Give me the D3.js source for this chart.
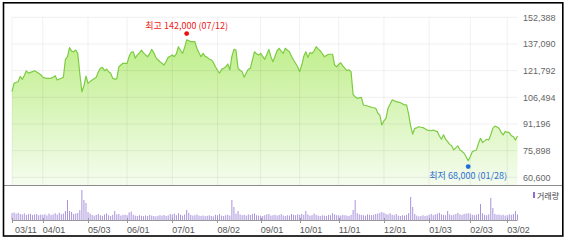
<!DOCTYPE html>
<html><head><meta charset="utf-8">
<script src="https://cdn.jsdelivr.net/npm/d3@7"></script>
<style>html,body{margin:0;padding:0;background:#fff;overflow:hidden}</style>
</head><body><svg id="c" width="567" height="241"></svg>
<script>
// ---- data ----
const startDate = "2021-03-11", endDate = "2022-03-10";
const holidays = ["2021-05-05","2021-05-19","2021-08-16","2021-09-20","2021-09-21","2021-09-22","2021-10-04","2021-10-11","2021-12-31","2022-01-31","2022-02-01","2022-02-02","2022-03-01","2022-03-09"];
const prices = [
109700,114500,115000,115400,118500,116800,119000,121700,120300,120800,
121200,121700,121000,120300,119500,118000,117600,117400,117400,117400,
118000,118900,116400,117000,117400,118000,128300,129800,135000,133000,
132600,133600,131700,120000,109700,113000,118700,114500,115500,116400,
117200,118000,121000,123100,123700,121800,122600,121200,120300,117500,
116800,117200,124000,125000,126000,126000,126000,130000,132300,132600,
128900,130800,132000,133600,132000,130800,129800,131500,134000,132000,
129400,128000,126900,126000,125000,127000,129400,130000,130800,129800,
131500,135500,133500,131700,135000,139400,139000,138400,138400,138400,
134500,132000,129800,131700,130000,129400,128500,127900,126500,124000,
122000,120300,122600,123100,124000,125600,122200,130000,134000,133600,
123100,122000,121200,118000,120500,122600,123100,128000,132600,131500,
130800,131700,130000,128300,131000,134000,129800,126900,130000,133200,
134600,133000,131700,134600,133500,132600,130000,127900,126000,124000,
121200,125000,130000,132600,129400,132100,131700,133000,135500,134300,
133200,131500,129800,130500,131200,131200,131200,125000,124000,125500,
126300,124500,123100,121800,122200,121200,108000,106800,105900,106200,
106500,102100,101800,101500,101100,100800,100500,100200,97500,96300,
90600,93000,94400,100200,102500,105000,104500,104000,103700,103400,
102800,102100,102100,97000,90000,85400,88700,89000,89600,89300,
89100,88500,87700,87500,87300,87700,87200,86800,84300,82400,
85000,82500,81000,79500,78600,76300,77500,78600,76300,75500,
74400,72400,70100,72400,75300,75800,76300,80000,83000,80500,
81500,82400,82000,85000,88700,90000,89500,88700,86500,84900,
86800,86500,86200,84500,83900,82000,84300];
const volumes = [ // millions of shares
3.5,3.8,3.2,3.6,3.0,2.8,3.3,2.6,2.9,3.1,2.5,2.8,3.0,2.4,2.7,
2.6,2.9,2.3,3.2,2.5,2.8,3.4,2.7,3.6,2.9,3.2,
4.5,10,4.5,4.0,3.0,3.2,3.5,5.0,15,10,8.5,
4.0,3.2,2.5,2.2,2.6,3.0,2.4,2.1,2.8,3.3,2.4,2.0,2.6,4.5,2.8,3.0,2.2,2.5,2.7,
2.4,3.8,4.2,2.6,2.2,2.0,2.4,2.1,1.9,2.3,2.0,2.6,2.2,2.0,1.8,2.1,2.4,2.2,2.5,2.0,2.3,3.0,
2.8,3.2,2.4,3.4,2.6,2.2,2.8,5.0,3.6,2.6,2.2,2.4,2.8,2.2,2.0,2.3,1.9,2.1,2.4,2.0,1.8,2.6,
2.4,3.0,2.2,2.0,2.4,2.6,2.2,10.0,6.5,3.2,4.5,2.8,2.4,2.6,2.2,2.8,2.5,3.0,3.2,2.4,2.2,
2.2,2.0,2.4,2.8,3.0,2.2,2.4,2.6,2.2,2.5,2.9,2.3,2.0,2.4,2.2,3.0,2.6,2.4,2.8,
2.6,3.0,2.6,4.5,2.8,2.2,2.4,3.2,2.6,2.2,2.0,2.4,2.2,2.0,2.6,2.4,3.4,2.8,2.4,
2.4,2.2,2.6,2.4,2.2,2.0,2.6,5.0,10.0,3.4,2.8,2.6,2.4,2.2,2.8,2.6,2.4,2.6,3.0,3.2,3.6,4.0,
3.6,3.0,2.8,3.4,2.6,2.4,3.0,2.2,2.0,2.4,2.2,2.6,3.4,
11.5,6.5,
3.0,2.2,1.8,2.0,2.4,2.0,2.2,2.6,3.0,2.4,2.8,3.2,3.6,2.8,2.6,
2.4,4.5,2.8,2.4,2.6,3.0,3.6,2.8,2.6,3.0,3.2,3.4,3.2,2.6,2.4,2.6,
3.0,8.0,3.4,2.6,2.4,2.8,11.0,6.0,3.0,
2.6,2.8,2.4,2.6,2.2,2.4,2.8,2.6,3.0,4.5,2.8];
const tickLabels = ["03/11","04/01","05/03","06/01","07/01","08/02","09/01","10/01","11/01","12/01","01/03","02/03","03/02"];
const yTicks = [60600,75898,91196,106494,121792,137090,152388];
const hiInfo = {date:"2021-07-12", value:142000, label:"최고 142,000 (07/12)"};
const loInfo = {date:"2022-01-28", value:68000, label:"최저 68,000 (01/28)"};
const volLegend = "거래량";

// ---- layout ----
const L = 12, R = 517.5, T = 17.3, B = 177.3, plotBottom = 185, volBase = 220, volTop = 188;
const svg = d3.select("#c");
const parse = d3.timeParse("%Y-%m-%d"), fmt = d3.timeFormat("%Y-%m-%d"), fmtMD = d3.timeFormat("%m/%d");
const hol = new Set(holidays);
const dates = d3.timeDay.range(parse(startDate), d3.timeDay.offset(parse(endDate), 1))
  .filter(d => d.getDay() !== 0 && d.getDay() !== 6 && !hol.has(fmt(d))).map(fmt);
const n = Math.min(dates.length, prices.length);

const x = d3.scalePoint().domain(dates).range([L, R]);
const y = d3.scaleLinear().domain([yTicks[0], yTicks[yTicks.length-1]]).range([B, T]);
const yv = d3.scaleLinear().domain([0, 16]).range([volBase, volTop]);

const defs = svg.append("defs");
const g = defs.append("linearGradient").attr("id","gf").attr("gradientUnits","userSpaceOnUse")
  .attr("x1",0).attr("y1",T).attr("x2",0).attr("y2",plotBottom);
g.append("stop").attr("offset","0%").attr("stop-color","#b6ec7a");
g.append("stop").attr("offset","100%").attr("stop-color","#f5fcee");

const font = "'Liberation Sans', Arial, sans-serif";
const kfont = "'Noto Sans CJK KR', 'Liberation Sans', sans-serif";

// area
const pts = d3.range(n).map(i => ({d: dates[i], v: prices[i]}));
svg.append("path").datum(pts)
  .attr("d", d3.area().x(p => x(p.d)).y0(plotBottom).y1(p => y(p.v)))
  .attr("fill", "url(#gf)");

// grid
const tickDates = tickLabels.map(lb => dates.find(d => fmtMD(parse(d)) === lb));
svg.append("g").selectAll("line").data(yTicks).join("line")
  .attr("x1", L).attr("x2", R).attr("y1", d => y(d)).attr("y2", d => y(d))
  .attr("stroke", "#000").attr("stroke-opacity", 0.06).attr("stroke-width", 1);
svg.append("g").selectAll("line").data(tickDates).join("line")
  .attr("x1", d => x(d)).attr("x2", d => x(d)).attr("y1", T).attr("y2", plotBottom)
  .attr("stroke", "#000").attr("stroke-opacity", 0.06).attr("stroke-width", 1);

// line
svg.append("path").datum(pts)
  .attr("d", d3.line().x(p => x(p.d)).y(p => y(p.v)))
  .attr("fill", "none").attr("stroke", "#7ccc42").attr("stroke-width", 1.2).attr("stroke-linejoin","round");

// separator
svg.append("line").attr("x1", 4).attr("x2", 562).attr("y1", plotBottom + 0.5).attr("y2", plotBottom + 0.5)
  .attr("stroke", "#8c8c8c").attr("stroke-width", 1);

// y labels
svg.append("g").selectAll("text").data(yTicks).join("text")
  .attr("x", 523).attr("y", d => y(d) + 3.3)
  .attr("font-family", font).attr("font-size", 9).attr("fill", "#666")
  .text(d => d3.format(",")(d));

// volume bars
svg.append("g").selectAll("rect").data(d3.range(Math.min(n, volumes.length))).join("rect")
  .attr("x", i => x(dates[i]) - 0.5).attr("width", 1)
  .attr("y", i => yv(volumes[i])).attr("height", i => volBase - yv(volumes[i]))
  .attr("fill", "#a994dc");

// volume baseline + ticks
svg.append("line").attr("x1", L).attr("x2", R).attr("y1", volBase + 0.5).attr("y2", volBase + 0.5)
  .attr("stroke", "#999").attr("stroke-width", 1);
svg.append("g").selectAll("line").data(tickDates).join("line")
  .attr("x1", d => Math.round(x(d)) + 0.5).attr("x2", d => Math.round(x(d)) + 0.5)
  .attr("y1", volBase - 2).attr("y2", volBase + 3)
  .attr("stroke", "#999").attr("stroke-width", 1);

// x labels
svg.append("g").selectAll("text").data(tickLabels).join("text")
  .attr("x", (lb, i) => i === 0 ? L + 3 : x(tickDates[i]))
  .attr("y", 233)
  .attr("font-family", font).attr("font-size", 9).attr("fill", "#555")
  .text(lb => lb);

// legend
svg.append("rect").attr("x", 533).attr("y", 192).attr("width", 2).attr("height", 6).attr("fill", "#8a6fd0");
svg.append("text").attr("x", 537).attr("y", 198.5).attr("font-family", kfont).attr("font-size", 8)
  .attr("fill", "#444").text(volLegend);

// annotations
const hx = x(hiInfo.date), hy = y(hiInfo.value) - 1.8;
svg.append("circle").attr("cx", hx).attr("cy", hy).attr("r", 2.4).attr("fill", "#ee1111");
svg.append("text").attr("x", hx).attr("y", hy - 5).attr("text-anchor", "middle")
  .attr("font-family", kfont).attr("font-size", 9).attr("fill", "#ee2222").text(hiInfo.label);
const lx = x(loInfo.date), ly = y(loInfo.value) + 2.2;
svg.append("circle").attr("cx", lx).attr("cy", ly).attr("r", 2.4).attr("fill", "#1a6fd8");
svg.append("text").attr("x", lx).attr("y", ly + 12).attr("text-anchor", "middle")
  .attr("font-family", kfont).attr("font-size", 9).attr("fill", "#2a72d0").text(loInfo.label);

// outer border
svg.append("rect").attr("x", 3.5).attr("y", 2.8).attr("width", 559.3).attr("height", 233.2)
  .attr("fill", "none").attr("stroke", "#000").attr("stroke-width", 1.6);
</script></body></html>
